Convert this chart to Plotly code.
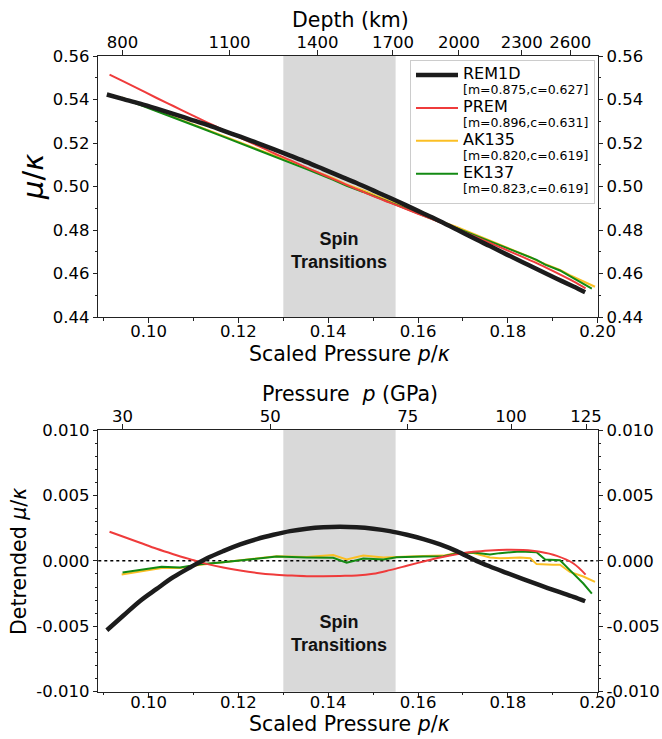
import plotly.graph_objects as go

# ---------------- data ----------------
# REM1D
P_REM = [0.0907, 0.0944, 0.0981, 0.1018, 0.1055, 0.1092, 0.1129, 0.1166, 0.1204, 0.1241,
         0.1278, 0.1315, 0.1352, 0.1389, 0.1426, 0.1463, 0.1500, 0.1537, 0.1575, 0.1612,
         0.1649, 0.1686, 0.1730, 0.1760, 0.1797, 0.1834, 0.1871, 0.1909, 0.1946, 0.1972]
MU_REM = [0.5423, 0.5402, 0.5381, 0.5358, 0.5334, 0.5309, 0.5284, 0.5257, 0.5229, 0.5201,
          0.5172, 0.5142, 0.5112, 0.5080, 0.5048, 0.5016, 0.4982, 0.4948, 0.4912, 0.4876,
          0.4840, 0.4802, 0.4756, 0.4726, 0.4688, 0.4651, 0.4614, 0.4576, 0.4540, 0.4514]
D_REM = [-0.00530, -0.00418, -0.00306, -0.00214, -0.00125, -0.00051, 0.00018, 0.00074, 0.00125, 0.00166,
         0.00199, 0.00227, 0.00245, 0.00256, 0.00260, 0.00256, 0.00245, 0.00227, 0.00199, 0.00166,
         0.00125, 0.00074, 0.00000, -0.00043, -0.00092, -0.00140, -0.00186, -0.00232, -0.00275, -0.00309]

# PREM
P_PREM = [0.0913, 0.0944, 0.0981, 0.1018, 0.1055, 0.1092, 0.1129, 0.1166, 0.1204, 0.1241,
          0.1278, 0.1315, 0.1352, 0.1389, 0.1426, 0.1463, 0.1500, 0.1537, 0.1575, 0.1612,
          0.1649, 0.1686, 0.1723, 0.1760, 0.1797, 0.1834, 0.1871, 0.1909, 0.1946, 0.1973]
MU_PREM = [0.5514, 0.5483, 0.5445, 0.5407, 0.5370, 0.5333, 0.5296, 0.5260, 0.5224, 0.5189,
           0.5154, 0.5121, 0.5087, 0.5054, 0.5021, 0.4988, 0.4956, 0.4926, 0.4895, 0.4865,
           0.4835, 0.4804, 0.4773, 0.4741, 0.4708, 0.4675, 0.4641, 0.4603, 0.4564, 0.4532]
D_PREM = [0.00222, 0.00184, 0.00138, 0.00092, 0.00051, 0.00013, -0.00023, -0.00051, -0.00074, -0.00092,
          -0.00105, -0.00112, -0.00117, -0.00117, -0.00115, -0.00112, -0.00099, -0.00071, -0.00038, -0.00005,
          0.00026, 0.00051, 0.00069, 0.00079, 0.00084, 0.00082, 0.00069, 0.00038, -0.00020, -0.00105]

# AK135
P_AK = [0.0940, 0.0981, 0.1029, 0.1070, 0.1115, 0.1166, 0.1226, 0.1285, 0.1352, 0.1411,
        0.1441, 0.1478, 0.1523, 0.1552, 0.1612, 0.1656, 0.1686, 0.1723, 0.1760, 0.1782,
        0.1827, 0.1850, 0.1864, 0.1900, 0.1916, 0.1938, 0.1968, 0.1994]
MU_AK = [0.5409, 0.5378, 0.5341, 0.5307, 0.5273, 0.5233, 0.5186, 0.5140, 0.5084, 0.5038,
         0.5009, 0.4982, 0.4944, 0.4920, 0.4872, 0.4836, 0.4814, 0.4783, 0.4749, 0.4731,
         0.4694, 0.4675, 0.4659, 0.4629, 0.4616, 0.4592, 0.4564, 0.4539]
D_AK = [-0.00105, -0.00080, -0.00055, -0.00055, -0.00030, -0.00010, 0.00010, 0.00035, 0.00030, 0.00045,
        0.00010, 0.00040, 0.00025, 0.00030, 0.00038, 0.00040, 0.00060, 0.00060, 0.00025, 0.00020,
        0.00025, 0.00020, -0.00025, -0.00030, -0.00030, -0.00085, -0.00120, -0.00161]

# EK137
P_EK = [0.0942, 0.0981, 0.1029, 0.1070, 0.1115, 0.1166, 0.1226, 0.1285, 0.1352, 0.1411,
        0.1441, 0.1478, 0.1523, 0.1552, 0.1612, 0.1656, 0.1686, 0.1723, 0.1760, 0.1782,
        0.1827, 0.1864, 0.1883, 0.1916, 0.1938, 0.1968, 0.1987]
MU_EK = [0.5406, 0.5376, 0.5339, 0.5304, 0.5270, 0.5229, 0.5182, 0.5136, 0.5080, 0.5031,
         0.5003, 0.4975, 0.4938, 0.4916, 0.4867, 0.4831, 0.4808, 0.4778, 0.4746, 0.4729,
         0.4694, 0.4663, 0.4641, 0.4614, 0.4588, 0.4553, 0.4530]
D_EK = [-0.00089, -0.00071, -0.00046, -0.00051, -0.00026, -0.00010, 0.00010, 0.00033, 0.00026, 0.00023,
        -0.00015, 0.00018, 0.00010, 0.00028, 0.00033, 0.00036, 0.00056, 0.00064, 0.00048, 0.00059,
        0.00071, 0.00066, 0.00010, 0.00005, -0.00071, -0.00173, -0.00250]

FIT_LABELS = ["[m=0.875,c=0.627]", "[m=0.896,c=0.631]", "[m=0.820,c=0.619]", "[m=0.823,c=0.619]"]
MODEL_NAMES = ["REM1D", "PREM", "AK135", "EK137"]

SPIN_RANGE = [0.130, 0.155]

X_TICKS = [0.10, 0.12, 0.14, 0.16, 0.18, 0.20]
X_TICK_TEXT = ["0.10", "0.12", "0.14", "0.16", "0.18", "0.20"]
X_MINOR = [0.09, 0.11, 0.13, 0.15, 0.17, 0.19]

DEPTH_TICK_POS = [0.0942, 0.1180, 0.1376, 0.1544, 0.1691, 0.1831, 0.1939]
DEPTH_TICK_TEXT = ["800", "1100", "1400", "1700", "2000", "2300", "2600"]

PRESS_TICK_POS = [0.0942, 0.1271, 0.1577, 0.1807, 0.1974]
PRESS_TICK_TEXT = ["30", "50", "75", "100", "125"]

Y1_TICKS = [0.44, 0.46, 0.48, 0.50, 0.52, 0.54, 0.56]
Y1_TEXT = ["0.44", "0.46", "0.48", "0.50", "0.52", "0.54", "0.56"]
Y1_MINOR = [0.45, 0.47, 0.49, 0.51, 0.53, 0.55]

Y2_TICKS = [-0.010, -0.005, 0.0, 0.005, 0.010]
Y2_TEXT = ["-0.010", "-0.005", "0.000", "0.005", "0.010"]
Y2_MINOR = [-0.009, -0.008, -0.007, -0.006, -0.004, -0.003, -0.002, -0.001,
            0.001, 0.002, 0.003, 0.004, 0.006, 0.007, 0.008, 0.009]

XRANGE = [0.0888, 0.200]
Y1RANGE = [0.44, 0.56]
Y2RANGE = [-0.010, 0.010]

# ---------------- styling ----------------
FONT = "DejaVu Sans"
TICKF = dict(family=FONT, size=16.5, color="black")
TITLEF = dict(family=FONT, size=20.5, color="black")
AXC = "#222222"
COLORS = {"REM1D": "#1c1c1c", "PREM": "#ef3b3b", "AK135": "#fbbf24", "EK137": "#138a13"}
WIDTHS = {"REM1D": 4.5, "PREM": 2, "AK135": 2, "EK137": 2}

fig = go.Figure()

series = {
    "REM1D": (P_REM, MU_REM, D_REM, 0),
    "PREM": (P_PREM, MU_PREM, D_PREM, 1),
    "AK135": (P_AK, MU_AK, D_AK, 2),
    "EK137": (P_EK, MU_EK, D_EK, 3),
}
draw_order = ["AK135", "EK137", "PREM", "REM1D"]
for name in draw_order:
    px, mu, dd, idx = series[name]
    shape = "spline" if name in ("REM1D", "PREM") else "linear"
    label = (f"<span style='font-size:16px'>{name}</span><br>"
             f"<span style='font-size:12.5px'>{FIT_LABELS[idx]}</span>")
    fig.add_trace(go.Scatter(x=px, y=mu, mode="lines", name=label, legendrank=idx + 1,
                             line=dict(color=COLORS[name], width=WIDTHS[name], shape=shape),
                             xaxis="x", yaxis="y", showlegend=True, hoverinfo="skip"))
    fig.add_trace(go.Scatter(x=px, y=dd, mode="lines", name=name,
                             line=dict(color=COLORS[name], width=WIDTHS[name], shape=shape),
                             xaxis="x2", yaxis="y2", showlegend=False, hoverinfo="skip"))

# invisible carriers so the secondary (top / right) axes get drawn
for xa, ya, yv in (("x3", "y", MU_REM), ("x", "y3", MU_REM), ("x4", "y2", D_REM), ("x2", "y4", D_REM)):
    fig.add_trace(go.Scatter(x=P_REM, y=yv, mode="lines", line=dict(width=0, color="rgba(0,0,0,0)"),
                             xaxis=xa, yaxis=ya, showlegend=False, hoverinfo="skip"))

XDOM = [98.3 / 662, 597.7 / 662]
Y1DOM = [1 - 317 / 739, 1 - 56 / 739]
Y2DOM = [1 - 691.7 / 739, 1 - 430 / 739]

base_axis = dict(showgrid=False, zeroline=False, showline=True, linecolor=AXC, linewidth=1.2,
                 ticks="outside", ticklen=4.5, tickwidth=1.2, tickcolor=AXC, tickfont=TICKF,
                 automargin=False, fixedrange=True)
minor_x = dict(tickmode="array", tickvals=X_MINOR, ticks="outside", ticklen=2.5, tickwidth=1, tickcolor=AXC)
minor_y1 = dict(tickmode="array", tickvals=Y1_MINOR, ticks="outside", ticklen=2.5, tickwidth=1, tickcolor=AXC)
minor_y2 = dict(tickmode="array", tickvals=Y2_MINOR, ticks="outside", ticklen=2.5, tickwidth=1, tickcolor=AXC)

xmain = dict(base_axis, range=XRANGE, tickmode="array", tickvals=X_TICKS, ticktext=X_TICK_TEXT,
             minor=minor_x)
xtop = dict(base_axis, range=XRANGE, tickmode="array", ticklabelstandoff=-4)
y1ax = dict(base_axis, range=Y1RANGE, tickmode="array", tickvals=Y1_TICKS, ticktext=Y1_TEXT, minor=minor_y1)
y2ax = dict(base_axis, range=Y2RANGE, tickmode="array", tickvals=Y2_TICKS, ticktext=Y2_TEXT, minor=minor_y2)

fig.update_layout(
    template="none",
    width=662, height=739,
    margin=dict(l=0, r=0, t=0, b=0, pad=0),
    paper_bgcolor="white", plot_bgcolor="white",
    font=dict(family=FONT, color="black"),
    xaxis=dict(xmain, domain=XDOM, anchor="y", ticklabelstandoff=-5),
    xaxis2=dict(xmain, domain=XDOM, anchor="y2", ticklabelstandoff=-9),
    xaxis3=dict(xtop, overlaying="x", side="top", anchor="y",
                tickvals=DEPTH_TICK_POS, ticktext=DEPTH_TICK_TEXT),
    xaxis4=dict(xtop, overlaying="x2", side="top", anchor="y2",
                tickvals=PRESS_TICK_POS, ticktext=PRESS_TICK_TEXT),
    yaxis=dict(y1ax, domain=Y1DOM, anchor="x"),
    yaxis3=dict(y1ax, overlaying="y", side="right", anchor="x"),
    yaxis2=dict(y2ax, domain=Y2DOM, anchor="x2"),
    yaxis4=dict(y2ax, overlaying="y2", side="right", anchor="x2"),
    legend=dict(x=410 / 662, y=1 - 60 / 739, xanchor="left", yanchor="top",
                bgcolor="white", bordercolor="#cccccc", borderwidth=1,
                font=dict(family=FONT, size=11.5, color="black"), valign="top",
                tracegroupgap=0, itemwidth=42),
    showlegend=True,
)

# spin transition bands
for xr, yr in (("x", "y domain"), ("x2", "y2 domain")):
    fig.add_shape(type="rect", xref=xr, yref=yr, x0=SPIN_RANGE[0], x1=SPIN_RANGE[1], y0=0, y1=1,
                  fillcolor="#d9d9d9", line=dict(width=0), layer="below")

# zero reference line in bottom panel
fig.add_shape(type="line", xref="x2 domain", yref="y2", x0=0, x1=1, y0=0, y1=0,
              line=dict(color="black", width=1.5, dash="dot"), layer="below")

spin_mid = (SPIN_RANGE[0] + SPIN_RANGE[1]) / 2
fig.add_annotation(x=spin_mid, y=0.4708, xref="x", yref="y", text="<b>Spin<br>Transitions</b>",
                   showarrow=False, font=dict(family="Liberation Sans", size=18, color="#111111"))
fig.add_annotation(x=spin_mid, y=-0.00553, xref="x2", yref="y2", text="<b>Spin<br>Transitions</b>",
                   showarrow=False, font=dict(family="Liberation Sans", size=18, color="#111111"))

# axis titles
fig.add_annotation(x=350 / 662, y=1 - 20 / 739, xref="paper", yref="paper", text="Depth (km)",
                   showarrow=False, font=TITLEF, yanchor="middle")
fig.add_annotation(x=349 / 662, y=1 - 354 / 739, xref="paper", yref="paper",
                   text="Scaled Pressure <i>p</i>/<i>κ</i>", showarrow=False, font=TITLEF,
                   yanchor="middle")
fig.add_annotation(x=350 / 662, y=1 - 394 / 739, xref="paper", yref="paper",
                   text="Pressure  <i>p</i> (GPa)", showarrow=False, font=TITLEF, yanchor="middle")
fig.add_annotation(x=349 / 662, y=1 - 724 / 739, xref="paper", yref="paper",
                   text="Scaled Pressure <i>p</i>/<i>κ</i>", showarrow=False, font=TITLEF,
                   yanchor="middle")
fig.add_annotation(x=33 / 662, y=1 - 177 / 739, xref="paper", yref="paper",
                   text="<i>μ</i>/<i>κ</i>", showarrow=False, textangle=-90,
                   font=dict(family=FONT, size=29, color="black"), xanchor="center", yanchor="middle")
fig.add_annotation(x=19 / 662, y=1 - 562 / 739, xref="paper", yref="paper",
                   text="Detrended <i>μ</i>/<i>κ</i>", showarrow=False, textangle=-90,
                   font=TITLEF, xanchor="center", yanchor="middle")

fig.write_html("out.html", config={"displayModeBar": False})
